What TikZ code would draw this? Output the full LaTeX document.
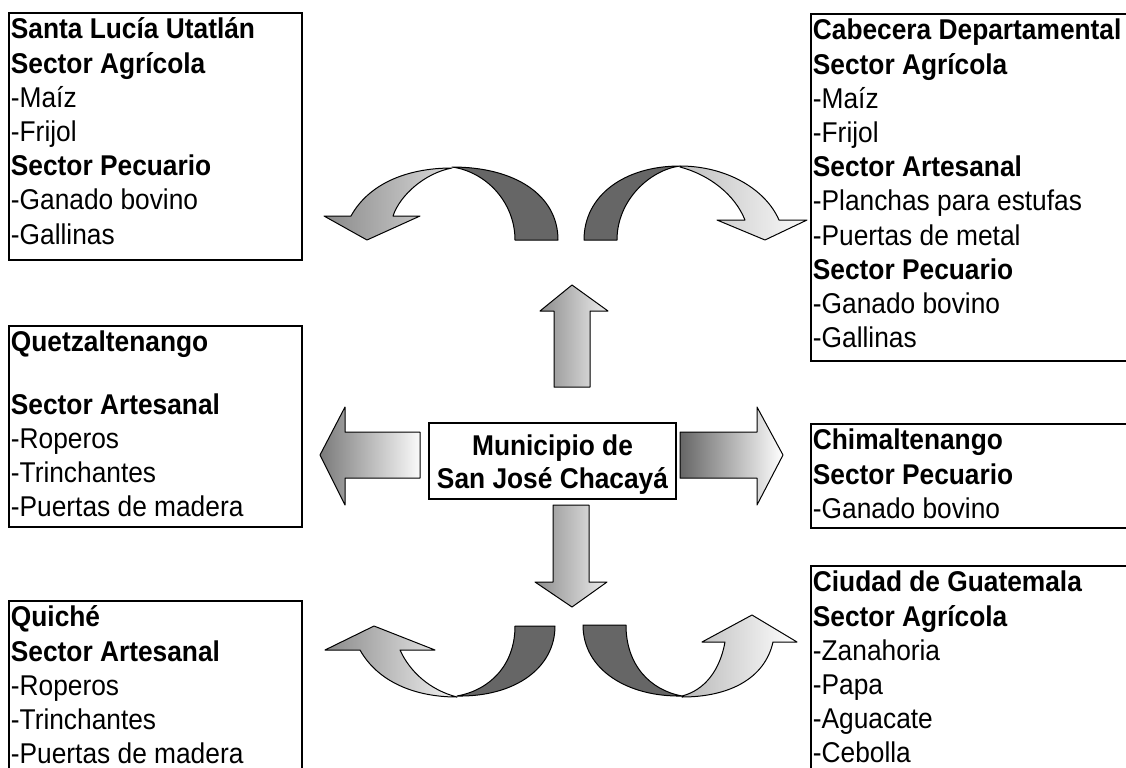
\documentclass[tikz,border=0pt]{standalone}
\usepackage{fontspec}
\setmainfont{Liberation Sans}[FakeStretch=0.92]

\definecolor{grisosc}{HTML}{666666}

\tikzset{
  caja/.style={line width=1.2pt},
  texto/.style={anchor=north west, inner sep=0pt, align=left, font=\fontsize{14.3}{17.1}\selectfont},
  flecha/.style={draw=black, line width=0.5pt, line join=round},
  oscuro/.style={flecha, fill=grisosc},
}

\begin{document}
\begin{tikzpicture}[x=0.5pt, y=-0.5pt]
  \useasboundingbox (0,0) rectangle (1126,767);
  \clip (0,0) rectangle (1126,767);

  \draw[caja] (9,13) rectangle (302,260);
  \draw[caja] (811,14) rectangle (1140,361);
  \draw[caja] (9,326) rectangle (302,527);
  \draw[caja] (811,424) rectangle (1140,528);
  \draw[caja] (9,601) rectangle (302,790);
  \draw[caja] (811,566) rectangle (1140,790);
  \draw[caja] (429,423) rectangle (676,499);

  \node[texto] (stl) at (10.5,14.5) {\strut\textbf{Santa Lucía Utatlán}\\\textbf{Sector Agrícola}\\-Maíz\\-Frijol\\\textbf{Sector Pecuario}\\-Ganado bovino\\-Gallinas};
  \node[texto] (cab) at (812.5,15.5) {\strut\textbf{Cabecera Departamental}\\\textbf{Sector Agrícola}\\-Maíz\\-Frijol\\\textbf{Sector Artesanal}\\-Planchas para estufas\\-Puertas de metal\\\textbf{Sector Pecuario}\\-Ganado bovino\\-Gallinas};
  \node[texto] (que) at (10.5,327.5) {\strut\textbf{Quetzaltenango}\\[14pt]\textbf{Sector Artesanal}\\-Roperos\\-Trinchantes\\-Puertas de madera};
  \node[texto] (chi) at (812.5,425.5) {\strut\textbf{Chimaltenango}\\\textbf{Sector Pecuario}\\-Ganado bovino};
  \node[texto] (qui) at (10.5,602.5) {\strut\textbf{Quiché}\\\textbf{Sector Artesanal}\\-Roperos\\-Trinchantes\\-Puertas de madera};
  \node[texto] (cgu) at (812.5,567.5) {\strut\textbf{Ciudad de Guatemala}\\\textbf{Sector Agrícola}\\-Zanahoria\\-Papa\\-Aguacate\\-Cebolla};
  \node[texto, anchor=north, align=center, font=\fontsize{14.3}{16.5}\selectfont\bfseries] (mun) at (552.5,432) {\strut Municipio de\\San José Chacayá};

  % flechas rectas
  \draw[flecha, left color=black!52, right color=black!2] (420,432) -- (345,432) -- (345,407) -- (320,455) -- (345,505) -- (345,478) -- (420,478) -- cycle;
  \draw[flecha, left color=black!60, right color=white] (680,432) -- (757,432) -- (757,407) -- (783,455) -- (757,505) -- (757,478) -- (680,478) -- cycle;
  \draw[flecha, left color=black!45, right color=black!7] (554,387) -- (554,311) -- (540,311) -- (572,285) -- (608,311) -- (590,311) -- (590,387) -- cycle;
  \draw[flecha, left color=black!45, right color=black!7] (553,505) -- (589,505) -- (589,582) -- (607,582) -- (572,607) -- (535,582) -- (553,582) -- cycle;

  % flechas curvas
  \draw[oscuro] (515,240) -- (558,240) .. controls (558,195) and (515,167) .. (452,167) .. controls (487,172) and (515,203) .. (515,240) -- cycle;
  \draw[flecha, left color=black!46, right color=black!15] (351,216) .. controls (368,185) and (405,168) .. (452,168) .. controls (425,173) and (400,195) .. (393,216) -- (420,216) -- (367,240) -- (324,216) -- cycle;

  \draw[oscuro] (584,240) .. controls (584,195) and (625,166) .. (680,166) .. controls (650,170) and (617,200) .. (617,240) -- cycle;
  \draw[flecha, left color=black!25, right color=black!2] (680,166) .. controls (725,166) and (765,188) .. (779,220) -- (807,220) -- (765,240) -- (717,220) -- (745,220) .. controls (735,195) and (710,175) .. (680,167) -- cycle;

  \draw[oscuro] (515,626) -- (555,626) .. controls (555,668) and (515,697) .. (457,696) .. controls (490,690) and (515,665) .. (515,626) -- cycle;
  \draw[flecha, left color=black!46, right color=black!5] (360,650) .. controls (378,682) and (415,697) .. (457,697) .. controls (430,690) and (410,672) .. (400,650) -- (435,650) -- (374,626) -- (325,650) -- cycle;

  \draw[oscuro] (583,625) -- (626,625) .. controls (626,665) and (650,690) .. (682,696) .. controls (628,697) and (583,670) .. (583,625) -- cycle;
  \draw[flecha, left color=black!28, right color=white] (682,696) .. controls (705,690) and (720,670) .. (725,642) -- (702,642) -- (752,615) -- (797,642) -- (773,642) .. controls (765,678) and (730,697) .. (682,697) -- cycle;
\end{tikzpicture}
\end{document}
